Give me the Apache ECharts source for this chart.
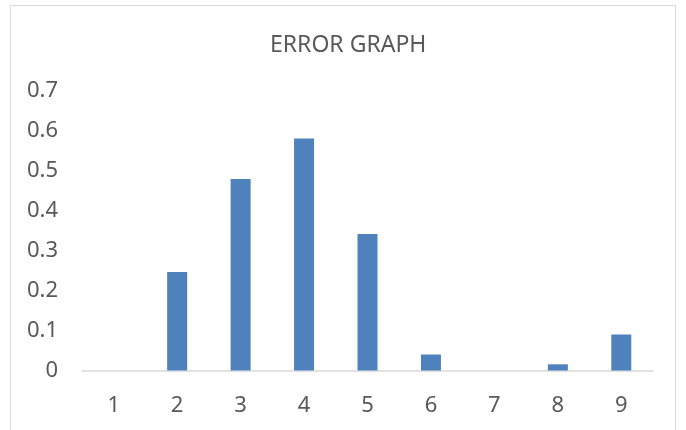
<!DOCTYPE html>
<html><head><meta charset="utf-8">
<script src="https://cdn.jsdelivr.net/npm/echarts@6/dist/echarts.min.js"></script>
<style>html,body{margin:0;padding:0;background:#fff}#c{width:686px;height:430px}</style>
</head><body><div id="c"></div>
<script>
const categories = ['1','2','3','4','5','6','7','8','9'];
const errorValues = [0, 0.246, 0.479, 0.58, 0.341, 0.04, 0, 0.0155, 0.09];
const yTicks = [0, 0.1, 0.2, 0.3, 0.4, 0.5, 0.6, 0.7];
const chart = echarts.init(document.getElementById('c'), null, {renderer:'canvas'});
const font = 'Noto Sans';
chart.setOption({
  animation:false,
  backgroundColor:'#fff',
  graphic:[{type:'rect',shape:{x:10.5,y:5.5,width:665,height:450},style:{fill:'none',stroke:'#d9d9d9',lineWidth:1},silent:true,z:-1}],
  title:{text:'ERROR GRAPH',left:265,top:29,textStyle:{color:'#595959',fontSize:23,fontWeight:'normal',fontFamily:font}},
  grid:{left:82,right:33,top:90.5,bottom:59.5,containLabel:false},
  xAxis:{type:'category',data:categories,
    axisLine:{lineStyle:{color:'#d9d9d9',width:1.5}},axisTick:{show:false},
    axisLabel:{color:'#595959',fontSize:22,fontFamily:font,margin:24}},
  yAxis:{type:'value',min:yTicks[0],max:yTicks[yTicks.length-1],interval:0.1,
    axisLine:{show:false},axisTick:{show:false},splitLine:{show:false},
    axisLabel:{color:'#595959',fontSize:22,fontFamily:font,margin:24,formatter:v=>String(Math.round(v*10)/10)}},
  series:[{type:'bar',data:errorValues,barWidth:20,itemStyle:{color:'#4f81bd'}}]
});
</script></body></html>
